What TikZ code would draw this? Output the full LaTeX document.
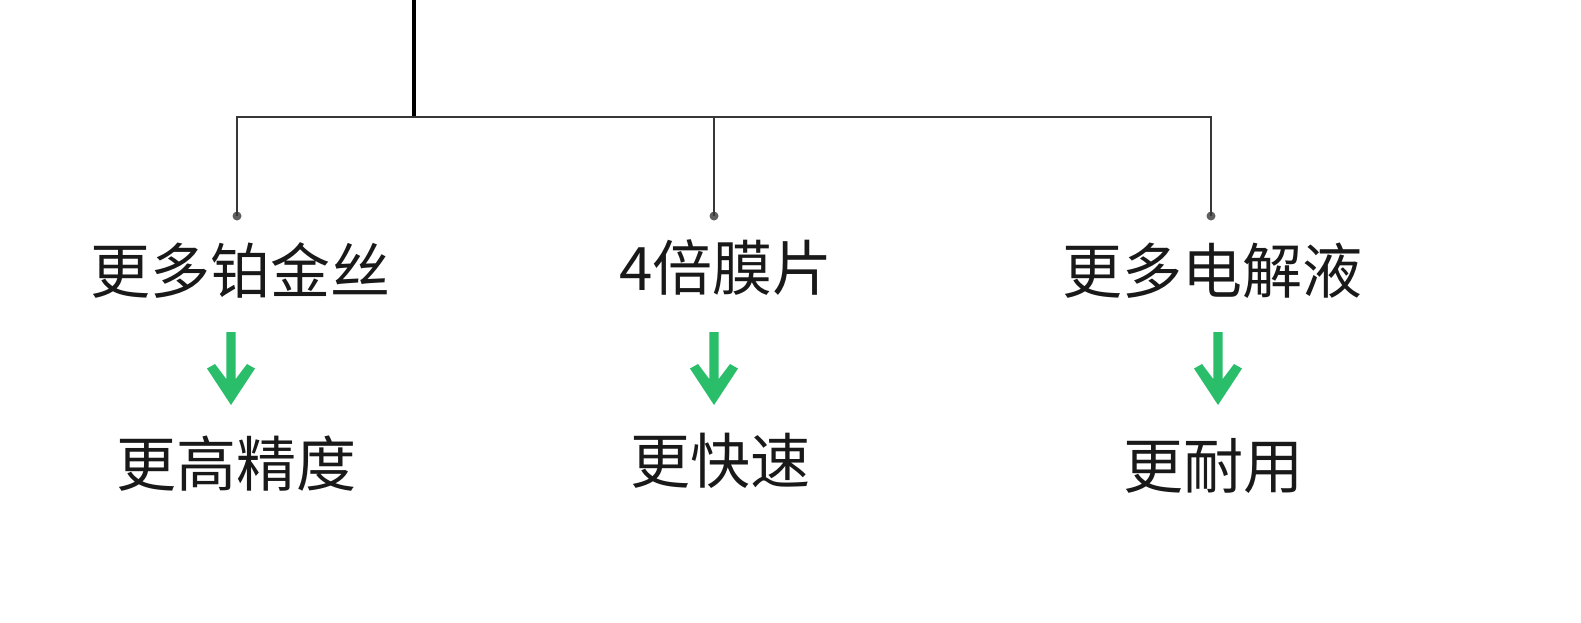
\documentclass[tikz,border=0pt]{standalone}
\usepackage{fontspec}
\newfontfamily\cjk{Noto Sans CJK SC}
\definecolor{arrowgreen}{RGB}{42,189,106}
\definecolor{linegray}{RGB}{55,55,55}
\definecolor{dotgray}{RGB}{95,95,95}
\begin{document}
\begin{tikzpicture}[x=1pt,y=-1pt,
  lbl/.style={inner sep=0pt,font=\cjk\fontsize{60pt}{60pt}\selectfont,text=black!90},
  dotn/.style={circle,fill=dotgray,inner sep=0pt,minimum size=9pt},
  bar/.style={draw=linegray,line width=2pt},
  garrow/.pic={\fill[arrowgreen] (-4.7,332) -- (4.7,332) -- (4.7,379) -- (16,364) -- (24,368.5) -- (0,405) -- (-24,368.5) -- (-16,364) -- (-4.7,379) -- cycle;}]
\useasboundingbox (0,0) rectangle (1581,622);
% trunk and bar
\coordinate (top) at (414,0);
\coordinate (j) at (414,117);
\coordinate (h1) at (237,117);
\coordinate (h2) at (714,117);
\coordinate (h3) at (1211,117);
\node[dotn] (d1) at (237,216) {};
\node[dotn] (d2) at (714,216) {};
\node[dotn] (d3) at (1211,216) {};
\draw[line width=4pt,black] (top) -- (j);
\draw[bar,line cap=rect] (h1) -- (h3);
\draw[bar] (h1) -- (d1.center);
\draw[bar] (h2) -- (d2.center);
\draw[bar] (h3) -- (d3.center);
% labels
\node[lbl] (a1) at (240,270) {更多铂金丝};
\node[lbl] (a2) at (726,268) {4倍膜片};
\node[lbl] (a3) at (1212,271) {更多电解液};
\node[lbl] (b1) at (236.5,464) {更高精度};
\node[lbl] (b2) at (720,461) {更快速};
\node[lbl] (b3) at (1213,466) {更耐用};
% green arrows
\pic at (231,0) {garrow};
\pic at (714,0) {garrow};
\pic at (1218,0) {garrow};
\end{tikzpicture}
\end{document}
